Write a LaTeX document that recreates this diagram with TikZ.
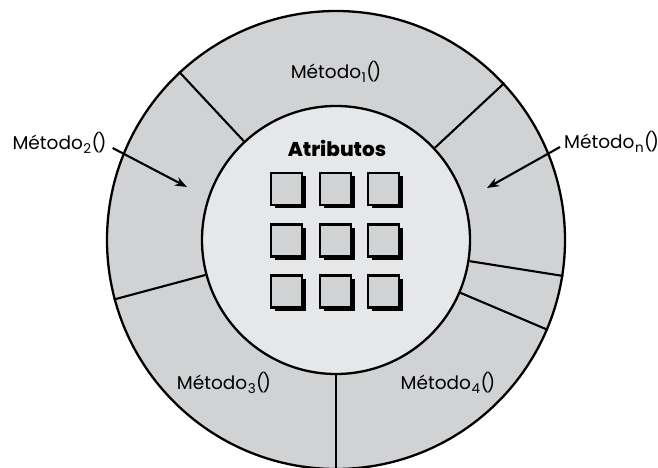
\documentclass[tikz,border=0pt]{standalone}
\usepackage{fontspec}
\setmainfont{Poppins}
\newfontfamily\heavyfont{Poppins ExtraBold}
\usetikzlibrary{arrows.meta,calc,shadows}
\definecolor{ringgray}{HTML}{D1D2D4}
\definecolor{coregray}{HTML}{E6E7E8}
\definecolor{boxgray}{HTML}{D1D2D4}
\newcommand{\methodname}[1]{Método\kern0.6pt\raisebox{-4.5pt}{\fontsize{13.5}{13.5}\selectfont #1}\kern0.4pt(\kern-2pt)}
\begin{document}
\begin{tikzpicture}[x=1pt,y=1pt,
  ring/.style={circle, draw=black, line width=2.3pt, fill=ringgray, minimum size=458pt, inner sep=0pt},
  core/.style={circle, draw=black, line width=2.3pt, fill=coregray, minimum size=268pt, inner sep=0pt},
  divider/.style={line width=2.1pt},
  methodtext/.style={font=\fontsize{18.5}{22}\selectfont, inner sep=1pt},
  titletext/.style={font=\fontsize{20}{24}\selectfont\heavyfont, inner sep=1pt},
  callarrow/.style={line width=2.1pt, -{Stealth[length=12pt,width=9pt]}},
  attrbox/.style={draw=black, line width=2.6pt, fill=boxgray, minimum width=31pt, minimum height=32pt, inner sep=0pt,
    general shadow={shadow xshift=3.5pt, shadow yshift=-3.5pt, fill=black, opacity=1}},
  ]
\useasboundingbox (0,0) rectangle (658,468);
\clip (0,0) rectangle (658,468);
\node[ring] (ring) at (336,228) {};
\node[core] (core) at (336,228) {};
\foreach \a in {133,43,195,351.5,337.5,270}
  \draw[divider] (core.\a) -- (ring.\a);
% attribute boxes
\foreach \c/\x in {1/286.5,2/335.5,3/383.5}
  \foreach \r/\y in {1/279,2/227.5,3/176.5}
    \node[attrbox] (box\r\c) at (\x,\y) {};
\node[titletext] (attr) at (337,320) {Atributos};
% method labels
\node[methodtext] (m1) at (336,396) {\methodname{1}};
\node[methodtext] (m3) at (224,85) {\methodname{3}};
\node[methodtext] (m4) at (448,85) {\methodname{4}};
\node[methodtext] (m2) at (59.5,325) {\methodname{2}};
\node[methodtext, anchor=west] (mn) at (563,326) {\methodname{n}};
\coordinate (m2tip) at (187,281);
\coordinate (mntip) at (487,280);
\draw[callarrow] ($(m2.east)+(5,-5)$) -- (m2tip);
\draw[callarrow] ($(mn.west)+(-3,-5)$) -- (mntip);
\end{tikzpicture}
\end{document}
